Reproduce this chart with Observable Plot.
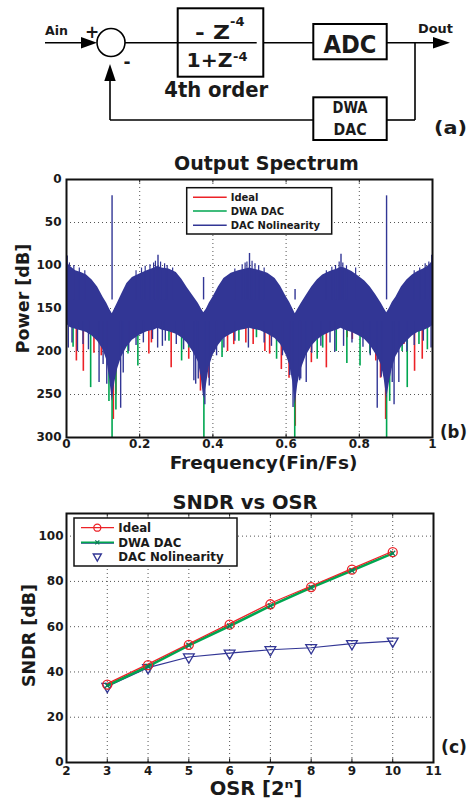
<!DOCTYPE html>
<html>
<head>
<meta charset="utf-8">
<script src="https://cdn.jsdelivr.net/npm/d3@7"></script>
<script src="https://cdn.jsdelivr.net/npm/@observablehq/plot@0.6"></script>
<style>
  html, body { margin: 0; padding: 0; background: #fff; }
  #root { position: relative; width: 468px; height: 800px; overflow: hidden; font-family: "DejaVu Sans", sans-serif; font-weight: bold; }
  #root > svg { position: absolute; left: 0; }
</style>
</head>
<body>
<div id="root"></div>
<script>
// ---------- Panel (b): Output Spectrum ----------
const specFreq = [0, .01, .025, .04, .055, .07, .085, .1, .11, .118,
  .125, .132, .14, .15, .165, .18, .2, .22, .24, .25,
  .26, .28, .3, .315, .33, .345, .36, .368, .375, .382,
  .39, .4, .415, .43, .45, .47, .49, .5, .51, .53,
  .55, .57, .585, .6, .61, .618, .625, .632, .64, .655,
  .67, .685, .7, .72, .74, .75, .76, .78, .8, .815,
  .83, .845, .86, .868, .875, .882, .89, .9, .915, .93,
  .945, .96, .975, .99, 1];
const specTop = [96, 101, 106, 108, 111, 117, 125, 137, 144, 151,
  156, 150, 143, 134, 121, 114, 110, 106, 103, 101,
  103, 104, 108, 116, 126, 135, 144, 150, 155, 151,
  144, 137, 125, 115, 109, 106, 104, 103, 104, 106,
  109, 115, 124, 136, 143, 150, 156, 151, 145, 135,
  125, 117, 111, 107, 104, 102, 103, 107, 113, 118,
  125, 134, 144, 150, 155, 150, 143, 137, 125, 117,
  111, 107, 104, 100, 95];
const specBottom = [168, 172, 174, 176, 178, 182, 188, 198, 210, 232,
  258, 236, 220, 207, 195, 187, 181, 177, 175, 173,
  175, 177, 180, 184, 190, 200, 212, 230, 255, 240,
  218, 205, 193, 185, 180, 176, 174, 173, 174, 176,
  180, 185, 192, 204, 216, 235, 262, 238, 222, 205,
  194, 187, 182, 178, 175, 173, 175, 178, 182, 186,
  193, 203, 215, 232, 255, 237, 220, 206, 195, 188,
  182, 178, 176, 173, 170];

const redSpikeF = [.027, .046, .075, .095, .128, .135, .225, .232, .286, .334,
  .366, .389, .44, .457, .49, .51, .542, .555, .587, .608,
  .625, .637, .669, .71, .767, .781, .845, .858, .872, .922, .951, .972];
const redSpikeDb = [211, 223, 202, 205, 279, 250, 203, 190, 219, 209,
  246, 231, 200, 192, 190, 192, 200, 203, 221, 231,
  287, 223, 213, 219, 184, 186, 211, 231, 279, 192, 223, 209];
const greenSpikeF = [.018, .066, .116, .1245, .135, .168, .195, .28, .3145, .334,
  .3754, .425, .471, .519, .574, .6236, .685, .7, .737, .766,
  .802, .829, .8746, .883, .917, .931, .963, .986];
const greenSpikeDb = [195, 242, 258, 300, 268, 203, 217, 188, 211, 196,
  300, 207, 188, 184, 209, 300, 209, 196, 200, 214,
  217, 203, 300, 258, 200, 242, 192, 198];
const blueSpikeF = [.005, .03, .089, .11, .148, .155, .249, .262, .348, .353,
  .378, .497, .619, .637, .655, .733, .757, .849, .862, .895, .908, .996,
  .015, .045, .06, .1, .17, .19, .21, .235, .27, .3, .32, .36, .39, .41, .43, .46,
  .54, .56, .59, .61, .64, .67, .695, .72, .78, .81, .83, .86, .89, .93, .95, .975];
const blueSpikeDb = [196, 200, 236, 238, 266, 225, 196, 194, 234, 238,
  262, 196, 265, 234, 236, 201, 194, 266, 223, 262, 236, 196,
  190, 192, 198, 215, 200, 193, 190, 186, 188, 192, 198, 232, 240, 205, 196, 188,
  190, 194, 205, 228, 232, 202, 194, 190, 190, 195, 205, 230, 236, 200, 193, 188];
// small spikes rising above the top of the noise band
const blueTopF = [.008, .02, .035, .05, .19, .205, .215, .228, .238, .243, .257, .268, .275, .29,
  .46, .48, .488, .493, .507, .515, .525, .54, .71, .725, .735, .745, .755, .765, .79, .95, .965, .98, .99];
const blueTopDb = [97, 100, 103, 106, 106, 103, 101, 99, 97, 95, 96, 98, 100, 103,
  104, 99, 97, 96, 95, 98, 100, 103, 106, 102, 100, 96, 97, 100, 103, 106, 103, 98, 96];
const bluePeakF = [0.002, .1245, .25, .3745, .5, .6245, .75, .8745, .998];
const bluePeakDb = [89, 19, 88, 114, 86, 128, 87, 19, 88];

const specXTicks = [0, 0.2, 0.4, 0.6, 0.8, 1];
const specYTicks = [0, 50, 100, 150, 200, 250, 300];
const specSeries = ["Ideal", "DWA DAC", "DAC Nolinearity"];

// ---------- Panel (c): SNDR vs OSR ----------
const osr = [3, 4, 5, 6, 7, 8, 9, 10];
const sndrIdeal = [34.4, 43.0, 52.0, 60.9, 69.9, 77.5, 85.2, 92.9];
const sndrDwa = [34.0, 42.5, 51.8, 60.3, 69.2, 77.3, 84.8, 92.4];
const sndrNonlin = [33.6, 41.9, 46.6, 48.3, 49.8, 50.7, 52.5, 53.6];
const osrXTicks = [2, 3, 4, 5, 6, 7, 8, 9, 10, 11];
const osrYTicks = [0, 20, 40, 60, 80, 100];

const RED = "#ec2227", GREEN = "#00a650", BLUE = "#323695";
const INK = "#1a1a1a";
const FONT = "DejaVu Sans";
const root = document.getElementById("root");
const NS = "http://www.w3.org/2000/svg";

function el(tag, attrs, parent, text) {
  const e = document.createElementNS(NS, tag);
  for (const k in attrs) e.setAttribute(k, attrs[k]);
  if (text != null) e.textContent = text;
  if (parent) parent.appendChild(e);
  return e;
}

// ---------- (a) block diagram ----------
(function drawDiagram() {
  const s = el("svg", {width: 468, height: 145, style: "top:0px", "font-family": FONT, "font-weight": "bold", fill: INK}, root);
  const L = {stroke: "#000", "stroke-width": 1.6, fill: "none"};
  el("line", {x1: 45, y1: 42.7, x2: 84, y2: 42.7, ...L}, s);
  el("path", {d: "M81,37 L97,42.7 L81,48.4 Z", fill: "#000"}, s);
  el("text", {x: 45, y: 35, "font-size": 13, textLength: 23, lengthAdjust: "spacingAndGlyphs"}, s, "Ain");
  el("text", {x: 92, y: 38, "font-size": 17, "text-anchor": "middle"}, s, "+");
  el("circle", {cx: 111, cy: 42.5, r: 14, ...L}, s);
  el("text", {x: 127, y: 68, "font-size": 17, "text-anchor": "middle"}, s, "-");
  el("line", {x1: 125, y1: 42.7, x2: 256.7, y2: 42.7, ...L}, s);
  el("rect", {x: 177.7, y: 8.3, width: 85.6, height: 68.4, stroke: "#000", "stroke-width": 2, fill: "none"}, s);
  el("text", {x: 195, y: 39.3, "font-size": 19, textLength: 35, lengthAdjust: "spacingAndGlyphs"}, s, "- Z");
  el("text", {x: 230, y: 26, "font-size": 13}, s, "-4");
  el("text", {x: 186.5, y: 67, "font-size": 19, textLength: 46, lengthAdjust: "spacingAndGlyphs"}, s, "1+Z");
  el("text", {x: 233, y: 61, "font-size": 13}, s, "-4");
  el("text", {x: 216.3, y: 96.5, "font-size": 21, "text-anchor": "middle", textLength: 104, lengthAdjust: "spacingAndGlyphs"}, s, "4th order");
  el("line", {x1: 263.3, y1: 42.7, x2: 313.3, y2: 42.7, ...L}, s);
  el("rect", {x: 313.3, y: 24, width: 73.4, height: 35.3, stroke: "#000", "stroke-width": 2, fill: "none"}, s);
  el("text", {x: 350, y: 52.5, "font-size": 25, "text-anchor": "middle", textLength: 53, lengthAdjust: "spacingAndGlyphs"}, s, "ADC");
  el("line", {x1: 386.7, y1: 42.7, x2: 436, y2: 42.7, ...L}, s);
  el("path", {d: "M433,37 L450,42.7 L433,48.4 Z", fill: "#000"}, s);
  el("text", {x: 418, y: 33.3, "font-size": 13, textLength: 35, lengthAdjust: "spacingAndGlyphs"}, s, "Dout");
  el("line", {x1: 415, y1: 42.7, x2: 415, y2: 120, ...L}, s);
  el("line", {x1: 415, y1: 120, x2: 386.7, y2: 120, ...L}, s);
  el("rect", {x: 313.3, y: 97.3, width: 73.4, height: 42.7, stroke: "#000", "stroke-width": 2, fill: "none"}, s);
  el("text", {x: 350, y: 113.3, "font-size": 16, "text-anchor": "middle", textLength: 35, lengthAdjust: "spacingAndGlyphs"}, s, "DWA");
  el("text", {x: 350, y: 135, "font-size": 16, "text-anchor": "middle", textLength: 33, lengthAdjust: "spacingAndGlyphs"}, s, "DAC");
  el("line", {x1: 313.3, y1: 120, x2: 110, y2: 120, ...L}, s);
  el("line", {x1: 110, y1: 120, x2: 110, y2: 76, ...L}, s);
  el("path", {d: "M104.3,81 L110,64 L115.7,81 Z", fill: "#000"}, s);
  el("text", {x: 467, y: 134, "font-size": 18, "text-anchor": "end", textLength: 33, lengthAdjust: "spacingAndGlyphs"}, s, "(a)");
})();

// ---------- (b) spectrum plot ----------
const specRows = specFreq.map((f, i) => ({f, top: specTop[i], bottom: specBottom[i]}));
const spikes = (F, D, name) => F.map((f, i) => ({f, db: D[i], series: name}));
const redSpikes = spikes(redSpikeF, redSpikeDb, specSeries[0]);
const greenSpikes = spikes(greenSpikeF, greenSpikeDb, specSeries[1]);
const blueSpikes = spikes(blueSpikeF, blueSpikeDb, specSeries[2]);
const blueTop = spikes(blueTopF, blueTopDb, specSeries[2]);
const bluePeaks = spikes(bluePeakF, bluePeakDb, specSeries[2]);

const gridStyle = {stroke: "#555", strokeWidth: 1, strokeDasharray: "1,3"};
const label = (txt, opts) => Plot.text([txt], {text: d => d, textAnchor: "middle", lineAnchor: "middle", fill: INK, ...opts});
// short inward tick marks along top and bottom edges (MATLAB style)
const edgeTicksX = (ticks, y0, y1, yLen) => [
  Plot.tickX(ticks, {x: d => d, y1: () => y0, y2: () => y0 + yLen, stroke: "#111"}),
  Plot.ruleX(ticks, {x: d => d, y1: y1 - yLen, y2: y1, stroke: "#111"})
];

const plotB = Plot.plot({
  width: 468, height: 335,
  marginLeft: 66, marginRight: 36, marginTop: 34, marginBottom: 43,
  style: {fontFamily: FONT, fontWeight: "bold", fontSize: "12px", background: "transparent", overflow: "visible", color: INK},
  x: {domain: [0, 1], ticks: specXTicks, tickFormat: d => String(d)},
  y: {domain: [0, 300], reverse: true, ticks: specYTicks},
  marks: [
    Plot.ruleX(specXTicks.slice(1, -1), {x: d => d, ...gridStyle}),
    Plot.ruleY(specYTicks.slice(1, -1), {y: d => d, ...gridStyle}),
    Plot.ruleX(specXTicks.slice(1, -1), {x: d => d, y1: 0, y2: 4, stroke: "#111"}),
    Plot.ruleX(specXTicks.slice(1, -1), {x: d => d, y1: 296, y2: 300, stroke: "#111"}),
    Plot.ruleX(redSpikes, {x: "f", y1: 165, y2: "db", stroke: RED, strokeWidth: 1.6}),
    Plot.ruleX(greenSpikes, {x: "f", y1: 165, y2: "db", stroke: GREEN, strokeWidth: 1.6}),
    Plot.areaY(specRows, {x: "f", y1: "top", y2: "bottom", fill: BLUE}),
    Plot.ruleX(blueSpikes, {x: "f", y1: 165, y2: "db", stroke: BLUE, strokeWidth: 1.4}),
    Plot.ruleX(blueTop, {x: "f", y1: 140, y2: "db", stroke: BLUE, strokeWidth: 1.2}),
    Plot.ruleX(bluePeaks, {x: "f", y1: 140, y2: "db", stroke: BLUE, strokeWidth: 1.4}),
    Plot.frame({stroke: "#111", strokeWidth: 2}),
    Plot.axisX({ticks: specXTicks, tickFormat: d => String(d), tickSize: 0, tickPadding: 2, label: null}),
    Plot.axisY({ticks: specYTicks, tickSize: 0, tickPadding: 5, label: null}),
    label("Output Spectrum", {frameAnchor: "top", dy: -16, dx: 17, fontSize: 19}),
    label("Frequency(Fin/Fs)", {frameAnchor: "bottom", dy: 26, dx: 14, fontSize: 18.5}),
    label("Power [dB]", {frameAnchor: "left", rotate: -90, dx: -43.5, dy: -10, fontSize: 17.5})
  ]
});
plotB.style.top = "145px";
root.appendChild(plotB);

// ---------- (c) SNDR vs OSR ----------
const rowsIdeal = osr.map((o, i) => ({o, v: sndrIdeal[i]}));
const rowsDwa = osr.map((o, i) => ({o, v: sndrDwa[i]}));
const rowsNon = osr.map((o, i) => ({o, v: sndrNonlin[i]}));

const plotC = Plot.plot({
  width: 468, height: 320,
  marginLeft: 66, marginRight: 35, marginTop: 33, marginBottom: 38,
  style: {fontFamily: FONT, fontWeight: "bold", fontSize: "12px", background: "transparent", overflow: "visible", color: INK},
  x: {domain: [2, 11], ticks: osrXTicks},
  y: {domain: [0, 110], ticks: osrYTicks},
  marks: [
    Plot.ruleX(osrXTicks.slice(1, -1), {x: d => d, ...gridStyle}),
    Plot.ruleY(osrYTicks.slice(1), {y: d => d, ...gridStyle}),
    Plot.ruleX(osrXTicks.slice(1, -1), {x: d => d, y1: 0, y2: 1.6, stroke: "#111"}),
    Plot.ruleX(osrXTicks.slice(1, -1), {x: d => d, y1: 108.4, y2: 110, stroke: "#111"}),
    Plot.line(rowsNon, {x: "o", y: "v", stroke: BLUE, strokeWidth: 1.2}),
    Plot.dot(rowsNon, {x: "o", y: "v", symbol: "triangle", rotate: 180, r: 4, stroke: BLUE, strokeWidth: 1.3, fill: "none"}),
    Plot.line(rowsDwa, {x: "o", y: "v", stroke: GREEN, strokeWidth: 2.6}),
    Plot.line(rowsIdeal, {x: "o", y: "v", stroke: RED, strokeWidth: 1.2, dy: -1}),
    Plot.dot(rowsIdeal, {x: "o", y: "v", r: 4.5, stroke: RED, strokeWidth: 1.3, fill: "none"}),
    Plot.dot(rowsDwa, {x: "o", y: "v", symbol: "times", r: 2.4, stroke: "#0b7d55", strokeWidth: 1.3}),
    Plot.frame({stroke: "#111", strokeWidth: 2}),
    Plot.axisX({ticks: osrXTicks, tickSize: 0, tickPadding: 4, label: null}),
    Plot.axisY({ticks: osrYTicks, tickSize: 0, tickPadding: 3, label: null}),
    label("SNDR vs OSR", {frameAnchor: "top", dy: -10.3, dx: -5, fontSize: 19.5}),
    label("OSR [2ⁿ]", {frameAnchor: "bottom", dy: 26.3, dx: 6, fontSize: 19.5}),
    label("SNDR [dB]", {frameAnchor: "left", rotate: -90, dx: -37, dy: -2.5, fontSize: 17.5})
  ]
});
plotC.style.top = "480px";
root.appendChild(plotC);

// legends and panel tags
(function overlays() {
  const s = el("svg", {width: 468, height: 800, style: "top:0px;pointer-events:none", "font-family": FONT, "font-weight": "bold", fill: INK}, root);
  // legend (b)
  el("rect", {x: 186.7, y: 187.7, width: 145, height: 46.3, fill: "#fff", stroke: "#111", "stroke-width": 1.5}, s);
  const colsB = [RED, GREEN, BLUE];
  const ysB = [197.3, 211, 225.3];
  specSeries.forEach((name, i) => {
    el("line", {x1: 193, x2: 226.7, y1: ysB[i], y2: ysB[i], stroke: colsB[i], "stroke-width": 1.6}, s);
    el("text", {x: 230.7, y: ysB[i] + 3.6, "font-size": 10}, s, name);
  });
  el("text", {x: 467, y: 438, "font-size": 17, "text-anchor": "end", textLength: 27, lengthAdjust: "spacingAndGlyphs"}, s, "(b)");
  el("text", {x: 467, y: 753, "font-size": 17, "text-anchor": "end", textLength: 26, lengthAdjust: "spacingAndGlyphs"}, s, "(c)");
  // legend (c)
  el("rect", {x: 74, y: 518, width: 163, height: 48, fill: "#fff", stroke: "#111", "stroke-width": 1.5}, s);
  const ys = [527.7, 542.3, 557];
  el("line", {x1: 81, x2: 114, y1: ys[0], y2: ys[0], stroke: RED, "stroke-width": 1.3}, s);
  el("circle", {cx: 97.3, cy: ys[0], r: 3.5, stroke: RED, "stroke-width": 1.3, fill: "none"}, s);
  el("line", {x1: 81, x2: 114, y1: ys[1] + 0.8, y2: ys[1] + 0.8, stroke: BLUE, "stroke-width": 1.4}, s);
  el("line", {x1: 81, x2: 114, y1: ys[1], y2: ys[1], stroke: GREEN, "stroke-width": 1.8}, s);
  el("path", {d: `M95.3,${ys[1] - 2} l4,4 M99.3,${ys[1] - 2} l-4,4`, stroke: "#0b7d55", "stroke-width": 1.2}, s);
  el("path", {d: `M93.3,${ys[2] - 3} h8 l-4,7 Z`, stroke: BLUE, "stroke-width": 1.4, fill: "none"}, s);
  ["Ideal", "DWA DAC", "DAC Nolinearity"].forEach((name, i) => {
    el("text", {x: 118.3, y: ys[i] + 4.3, "font-size": 11.8}, s, name);
  });
})();
</script>
</body>
</html>
